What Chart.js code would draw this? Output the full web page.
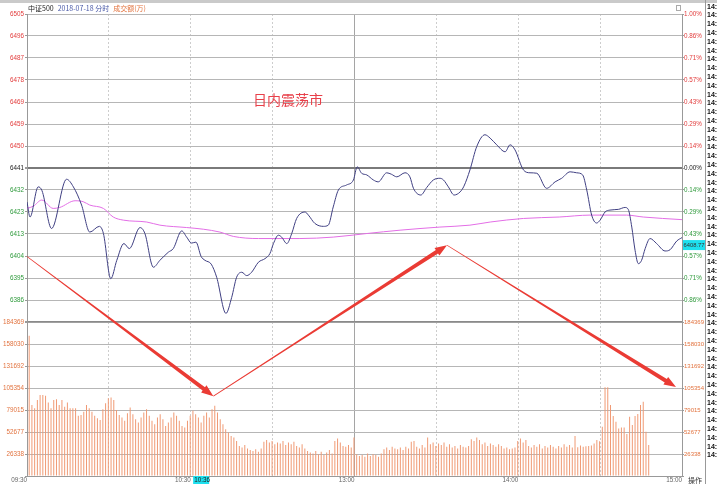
<!DOCTYPE html>
<html>
<head>
<meta charset="utf-8">
<script src="https://cdn.jsdelivr.net/npm/chart.js@4.4.1/dist/chart.umd.min.js"></script>
<style>
  html, body { margin: 0; padding: 0; background: #fff; }
  #wrap { width: 717px; height: 484px; position: relative; }
</style>
</head>
<body>
<div id="wrap"><canvas id="chart"></canvas></div>
<script>
/* axis ranges */
const priceMin = 6376.6
const priceMax = 6505.4
const volumeMax = 184369
const lastPrice = 6408.77
const cursorMinute = 66
const cursorLabel = '10:36'

/* tick labels, top to bottom */
const priceTickLabels = ['6505', '6496', '6487', '6478', '6469', '6459', '6450', '6441', '6432', '6423', '6413', '6404', '6395', '6386', '']
const percentTickLabels = ['1.00%', '0.86%', '0.71%', '0.57%', '0.43%', '0.29%', '0.14%', '0.00%', '0.14%', '0.29%', '0.43%', '0.57%', '0.71%', '0.86%', '']
const volumeTickLabels = ['184369', '158030', '131692', '105354', '79015', '52677', '26338', '']
const timeTickMinutes = [0, 30, 60, 90, 120, 150, 180, 210, 240]
const timeTickLabels = ['09:30', '', '10:30', '', '13:00', '', '14:00', '', '15:00']

/* price line (minute from 09:30, value) */
const priceMinutes = [0, 1.1, 4.1, 5.5, 9, 14.5, 17, 20, 23, 26.5, 28, 30.7, 32.9, 35.5, 37.5, 41.4, 43.2, 46.3, 48.7, 51.8,
  53.6, 56.7, 58.5, 60.3, 61.9, 63.8, 65.2, 67.5, 69.5, 72.9, 75, 76.8, 78.7, 80.5, 82.3, 84.8, 87.2, 89, 90.3, 92.1,
  93.3, 95.2, 97, 98.8, 101.9, 103.1, 105.5, 108.6, 110.4, 112.2, 114.1, 117.1, 119.6, 121, 122.6, 124.5, 126.9, 128.7, 131.8, 133.5,
  135.5, 138.5, 140.3, 141.6, 144.3, 146.5, 148.9, 151.3, 152.6, 154.4, 156.5, 158.7, 160.1, 162.3, 164.8, 167.8, 169.7, 172.1, 175.2, 177,
  178.8, 181.9, 184.3, 186.8, 190.4, 193.5, 195.9, 199, 201.4, 203.6, 205.1, 206.9, 208.7, 210, 211.8, 213.6, 216.7, 219.1, 220.3, 221.6,
  222.8, 224, 225.2, 226.5, 228.3, 230.7, 233.8, 235.6, 238.1, 240]
const priceValues = [6426.8, 6420.5, 6433.1, 6431.5, 6415.7, 6436.3, 6433.1, 6425.5, 6414.2, 6416.6, 6413.6, 6394.7, 6402.4, 6409.4, 6407.3, 6416.1, 6413.6, 6399.5, 6402.4, 6405.8,
  6407.3, 6414.7, 6412.1, 6409.6, 6410.0, 6404.0, 6402.4, 6400.8, 6395.3, 6380.2, 6386.9, 6395.3, 6397.4, 6396.0, 6397.4, 6401.6, 6403.1, 6405.2, 6409.4, 6412.9,
  6412.1, 6409.4, 6413.6, 6419.9, 6422.6, 6421.3, 6417.8, 6416.6, 6417.1, 6424.7, 6431.8, 6433.9, 6436.0, 6441.5, 6438.8, 6438.1, 6436.0, 6435.2, 6439.0, 6438.4,
  6437.3, 6439.0, 6437.3, 6432.5, 6429.7, 6432.9, 6436.0, 6436.7, 6436.0, 6433.1, 6429.7, 6431.0, 6433.4, 6440.2, 6450.0, 6454.9, 6453.5, 6450.7, 6447.8, 6450.7,
  6448.6, 6440.2, 6439.0, 6438.8, 6432.5, 6435.2, 6436.7, 6439.4, 6439.0, 6438.1, 6431.8, 6421.3, 6418.0, 6419.2, 6422.6, 6423.4, 6423.7, 6424.5, 6423.7, 6416.3,
  6406.6, 6401.0, 6402.4, 6407.3, 6411.5, 6409.4, 6406.3, 6406.8, 6410.5, 6411.9]

/* average price line */
const avgMinutes = [0, 2.3, 5.4, 9.6, 12, 17.6, 20.6, 23, 28, 31.6, 35.3, 43.9, 48.7, 58.5, 64.6, 70.7, 75.6, 84.8, 100, 112.2,
  124.5, 136.7, 151.3, 162.3, 169.7, 181.9, 195, 206.3, 219.7, 225.8, 240]
const avgValues = [6424.1, 6425.0, 6427.6, 6424.1, 6424.5, 6427.3, 6426.9, 6425.5, 6424.1, 6420.5, 6419.2, 6418.4, 6417.1, 6416.1, 6415.4, 6414.2, 6412.4, 6411.5, 6411.5, 6412.1,
  6413.6, 6415.0, 6416.3, 6417.1, 6418.4, 6419.9, 6420.5, 6421.3, 6421.3, 6420.5, 6419.4]

/* volume per minute (万) */
const volumes = [168000, 85000, 81000, 91000, 97000, 97000, 96000, 88000, 81000, 91000, 92000, 85000, 91000, 83000, 88000, 81000, 81000, 81000, 72000, 73000,
  77000, 85000, 81000, 77000, 72000, 69000, 67000, 80000, 87000, 93000, 94000, 91000, 79000, 73000, 70000, 66000, 75000, 82000, 74000, 68000,
  64000, 70000, 76000, 80000, 72000, 66000, 62000, 70000, 74000, 68000, 60000, 64000, 70000, 76000, 72000, 66000, 60000, 58000, 66000, 72000,
  78000, 74000, 70000, 64000, 72000, 76000, 70000, 80000, 84000, 76000, 68000, 62000, 56000, 52000, 48000, 46000, 42000, 36000, 34000, 37000,
  33000, 31000, 30000, 32000, 29000, 33000, 41000, 43000, 40000, 42000, 38000, 40000, 39000, 42000, 37000, 40000, 38000, 41000, 36000, 34000,
  38000, 33000, 30000, 28000, 27000, 30000, 26000, 29000, 25000, 28000, 31000, 27000, 42000, 45000, 40000, 36000, 35000, 37000, 34000, 46000,
  26000, 24000, 25000, 23000, 27000, 24000, 26000, 25000, 23000, 27000, 32000, 34000, 31000, 35000, 33000, 32000, 34000, 31000, 35000, 33000,
  41000, 42000, 35000, 33000, 37000, 34000, 46000, 38000, 40000, 36000, 39000, 37000, 40000, 35000, 38000, 34000, 36000, 33000, 37000, 35000,
  34000, 36000, 44000, 42000, 46000, 43000, 38000, 40000, 36000, 39000, 37000, 35000, 38000, 36000, 33000, 34000, 32000, 33000, 34000, 42000,
  45000, 40000, 43000, 36000, 34000, 37000, 35000, 38000, 33000, 36000, 34000, 37000, 35000, 33000, 36000, 34000, 38000, 35000, 37000, 34000,
  47900, 34300, 36500, 35000, 35500, 36000, 36500, 39000, 43100, 41500, 59000, 106200, 106200, 85000, 71800, 65000, 57000, 58000, 58000, 50300,
  71000, 61000, 71800, 74200, 85000, 89000, 53000, 37000]

/* hand drawn annotation (minute, price) */
const arrowPoints = [[0, 6404.0], [68.3, 6345.6], [153.9, 6408.7], [237.8, 6349.4]]
const noteText = '日内震荡市'
const notePoint = [82.8, 6469.6]

const tickFont = { family: '"Liberation Sans", Arial, sans-serif', size: 6.3 }
const RED = '#e23c3c'
const GREEN = '#2f9a3c'
const ORANGE = '#e2733f'

function priceTickColor(i) {
  if (i < 7) return RED
  if (i === 7) return '#222'
  return GREEN
}

function evenTicks(scale, labels, top, bottom) {
  const step = (top - bottom) / (labels.length - 1)
  scale.ticks = labels.map((_, i) => ({ value: top - i * step }))
}

function drawArrow(ctx, x0, y0, x1, y1) {
  const ang = Math.atan2(y1 - y0, x1 - x0)
  const len = Math.hypot(x1 - x0, y1 - y0)
  const head = 12, headW = 4.5
  ctx.save()
  ctx.translate(x0, y0)
  ctx.rotate(ang)
  ctx.beginPath()
  ctx.moveTo(0, -0.4)
  ctx.lineTo(len * 0.3, -0.7)
  ctx.lineTo(len - head, -2)
  ctx.lineTo(len - head, -headW)
  ctx.lineTo(len, 0)
  ctx.lineTo(len - head, headW)
  ctx.lineTo(len - head, 2)
  ctx.lineTo(len * 0.3, 0.7)
  ctx.lineTo(0, 0.4)
  ctx.closePath()
  ctx.fill()
  ctx.restore()
}

const extras = {
  id: 'extras',
  afterDraw(chart) {
    const ctx = chart.ctx
    const xs = chart.scales.x, yp = chart.scales.yp
    ctx.save()

    // window title strip
    ctx.fillStyle = '#cacaca'
    ctx.fillRect(0, 0, 717, 3)

    // header
    ctx.font = '7px "Noto Sans CJK SC", sans-serif'
    ctx.textBaseline = 'middle'
    let hx = 28
    const parts = [['中证500', '#222'], ['2018-07-18 分时', '#4a5aa8'], ['成交额(万)', ORANGE]]
    parts.forEach(([t, c]) => {
      ctx.fillStyle = c
      ctx.fillText(t, hx, 8.5)
      hx += ctx.measureText(t).width + 4
    })

    // small icon top right
    ctx.strokeStyle = '#aaa'
    ctx.lineWidth = 1
    ctx.strokeRect(676.5, 5.5, 4, 5)

    // right side panel
    ctx.strokeStyle = '#999'
    ctx.beginPath()
    ctx.moveTo(705.5, 0)
    ctx.lineTo(705.5, 484)
    ctx.stroke()
    ctx.fillStyle = '#111'
    ctx.font = 'bold 7px "Liberation Sans", Arial, sans-serif'
    for (let i = 0; i < 52; i++) {
      ctx.fillText('14:5', 707, 6.7 + i * 8.8)
    }
    ctx.font = '7px "Noto Sans CJK SC", sans-serif'
    ctx.fillStyle = '#333'
    ctx.fillText('操作', 688, 480)

    // last price tag
    const ly = yp.getPixelForValue(lastPrice)
    ctx.fillStyle = '#1ee0ef'
    ctx.fillRect(683, ly - 5, 22, 10)
    ctx.fillStyle = '#333'
    ctx.font = '5.8px "Liberation Sans", Arial, sans-serif'
    ctx.fillText(lastPrice.toFixed(2), 683.5, ly + 0.5)

    // cursor time tag
    const cx = xs.getPixelForValue(cursorMinute)
    ctx.fillStyle = '#1ee0ef'
    ctx.fillRect(cx - 14, 476, 16, 8)
    ctx.fillStyle = '#222'
    ctx.font = '6.3px "Liberation Sans", Arial, sans-serif'
    ctx.fillText(cursorLabel, cx - 13, 480.5)

    // note
    ctx.fillStyle = '#e8404a'
    ctx.font = '14px "Noto Sans CJK SC", sans-serif'
    ctx.fillText(noteText, xs.getPixelForValue(notePoint[0]), yp.getPixelForValue(notePoint[1]))

    // arrows
    ctx.fillStyle = '#ea3b34'
    for (let i = 0; i < arrowPoints.length - 1; i++) {
      const [m0, p0] = arrowPoints[i], [m1, p1] = arrowPoints[i + 1]
      drawArrow(ctx, xs.getPixelForValue(m0), yp.getPixelForValue(p0), xs.getPixelForValue(m1), yp.getPixelForValue(p1))
    }
    ctx.restore()
  }
}

new Chart(document.getElementById('chart'), {
  type: 'line',
  data: {
    datasets: [
      {
        type: 'bar',
        data: volumes.map((v, i) => ({ x: i + 0.8, y: v })),
        yAxisID: 'yv',
        backgroundColor: '#f09a74',
        barThickness: 1,
        inflateAmount: 0,
        grouped: false
      },
      {
        type: 'line',
        data: priceMinutes.map((m, i) => ({ x: m, y: priceValues[i] })),
        yAxisID: 'yp',
        borderColor: '#3f3f82',
        borderWidth: 1,
        pointRadius: 0,
        cubicInterpolationMode: 'monotone'
      },
      {
        type: 'line',
        data: avgMinutes.map((m, i) => ({ x: m, y: avgValues[i] })),
        yAxisID: 'yp',
        borderColor: '#e36ee6',
        borderWidth: 1,
        pointRadius: 0,
        cubicInterpolationMode: 'monotone'
      }
    ]
  },
  options: {
    responsive: true,
    maintainAspectRatio: false,
    animation: false,
    layout: { padding: { top: 14, right: 12, left: 0, bottom: 0 } },
    plugins: { legend: { display: false }, tooltip: { enabled: false } },
    scales: {
      x: {
        type: 'linear',
        min: 0,
        max: 240,
        offset: false,
        afterBuildTicks: (s) => { s.ticks = timeTickMinutes.map(v => ({ value: v })) },
        afterFit: (s) => { s.height = 8 },
        grid: {
          offset: false,
          drawTicks: false,
          color: (c) => c.index === 4 ? '#a5a5a5' : '#cdcdcd'
        },
        border: {
          color: '#999',
          dash: (c) => (c.index === undefined || c.index === 4) ? [] : [2, 2]
        },
        ticks: {
          autoSkip: false,
          maxRotation: 0,
          align: 'end',
          padding: 0,
          font: tickFont,
          color: '#666',
          callback: (v, i) => timeTickLabels[i]
        }
      },
      yp: {
        type: 'linear',
        position: 'left',
        stack: 'left',
        stackWeight: 2,
        weight: 1,
        min: priceMin,
        max: priceMax,
        afterBuildTicks: (s) => evenTicks(s, priceTickLabels, priceMax, priceMin),
        afterFit: (s) => { s.width = 27 },
        grid: {
          tickLength: 2,
          tickColor: '#999',
          color: (c) => c.index === 7 ? '#7a7a7a' : '#b6b6b6',
          lineWidth: (c) => c.index === 7 ? 2 : 1
        },
        border: { color: '#999' },
        ticks: {
          autoSkip: false,
          padding: 1,
          font: tickFont,
          color: (c) => priceTickColor(c.index),
          callback: (v, i) => priceTickLabels[i]
        }
      },
      yv: {
        type: 'linear',
        position: 'left',
        stack: 'left',
        stackWeight: 1,
        weight: 0,
        min: 0,
        max: volumeMax,
        afterBuildTicks: (s) => evenTicks(s, volumeTickLabels, volumeMax, 0),
        afterFit: (s) => { s.width = 27 },
        grid: {
          tickLength: 2,
          tickColor: '#999',
          color: (c) => c.index === 0 ? '#8a8a8a' : '#b6b6b6',
          lineWidth: (c) => c.index === 0 ? 1.5 : 1
        },
        border: { color: '#999' },
        ticks: {
          autoSkip: false,
          padding: 1,
          font: tickFont,
          color: ORANGE,
          callback: (v, i) => volumeTickLabels[i]
        }
      },
      pr: {
        type: 'linear',
        position: 'right',
        stack: 'right',
        stackWeight: 2,
        weight: 0,
        min: priceMin,
        max: priceMax,
        afterBuildTicks: (s) => evenTicks(s, percentTickLabels, priceMax, priceMin),
        afterFit: (s) => { s.width = 23 },
        grid: { drawOnChartArea: false, tickLength: 2, tickColor: '#999' },
        border: { color: '#999' },
        ticks: {
          autoSkip: false,
          padding: 0,
          font: tickFont,
          color: (c) => priceTickColor(c.index),
          callback: (v, i) => percentTickLabels[i]
        }
      },
      vr: {
        type: 'linear',
        position: 'right',
        stack: 'right',
        stackWeight: 1,
        weight: 1,
        min: 0,
        max: volumeMax,
        afterBuildTicks: (s) => evenTicks(s, volumeTickLabels, volumeMax, 0),
        afterFit: (s) => { s.width = 23 },
        grid: { drawOnChartArea: false, tickLength: 2, tickColor: '#999' },
        border: { color: '#999' },
        ticks: {
          autoSkip: false,
          padding: 0,
          font: { family: tickFont.family, size: 6 },
          color: ORANGE,
          callback: (v, i) => volumeTickLabels[i]
        }
      }
    }
  },
  plugins: [extras]
})
</script>
</body>
</html>
